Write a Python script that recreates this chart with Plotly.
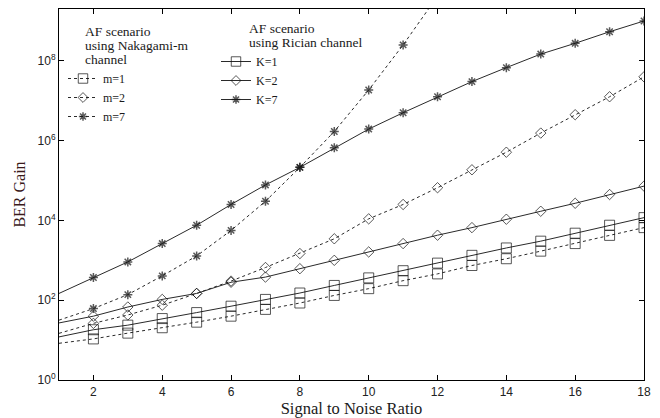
import plotly.graph_objects as go

snr = list(range(1, 19))

# log10 of BER gain
rician_k1 = [1.08, 1.26, 1.375, 1.54, 1.69, 1.85, 2.02, 2.18, 2.37, 2.56, 2.74, 2.93, 3.125, 3.31, 3.48, 3.68, 3.88, 4.07]
rician_k2 = [1.43, 1.60, 1.83, 2.02, 2.17, 2.45, 2.58, 2.79, 3.00, 3.21, 3.42, 3.63, 3.82, 4.03, 4.23, 4.43, 4.65, 4.86]
rician_k7 = [2.17, 2.57, 2.96, 3.42, 3.88, 4.40, 4.89, 5.33, 5.82, 6.29, 6.70, 7.10, 7.48, 7.83, 8.17, 8.44, 8.73, 9.00]
nak_m1 = [0.92, 1.03, 1.175, 1.31, 1.45, 1.60, 1.77, 1.93, 2.12, 2.29, 2.49, 2.66, 2.87, 3.04, 3.23, 3.42, 3.625, 3.82]
nak_m2 = [1.17, 1.42, 1.63, 1.875, 2.17, 2.48, 2.82, 3.17, 3.54, 4.04, 4.40, 4.82, 5.27, 5.71, 6.19, 6.65, 7.10, 7.60]
snr_m7 = list(range(1, 13))
nak_m7 = [1.50, 1.79, 2.14, 2.61, 3.11, 3.75, 4.48, 5.33, 6.23, 7.27, 8.40, 9.62]

ytick_exp = [0, 2, 4, 6, 8]
ytick_text = ["10<sup>%d</sup>" % e for e in ytick_exp]

LINE = "#2a2a2a"
SERIF = "Liberation Serif, Times New Roman, serif"
SANS = "Liberation Sans, Arial, sans-serif"

fig = go.Figure()

def add(xs, logs, name, symbol, msize, mlw, dash, legend):
    ys = [10 ** v for v in logs]
    sizes = [0 if x == 1 else msize for x in xs]
    fig.add_trace(go.Scatter(
        x=xs, y=ys, name=name, mode="lines+markers", legend=legend,
        line=dict(color=LINE, width=1, dash=dash),
        marker=dict(symbol=symbol, size=sizes, color="#111",
                    line=dict(color="#111", width=mlw)),
    ))

add(snr, nak_m1, "m=1", "square-open", 10, 1, "3px,3px", "legend")
add(snr, nak_m2, "m=2", "diamond-open", 8, 1, "3px,3px", "legend")
add(snr_m7, nak_m7, "m=7", "asterisk-open", 7.5, 1.5, "3px,3px", "legend")
add(snr, rician_k1, "K=1", "square-open", 10, 1, "solid", "legend2")
add(snr, rician_k2, "K=2", "diamond-open", 8, 1, "solid", "legend2")
add(snr, rician_k7, "K=7", "asterisk-open", 7.5, 1.5, "solid", "legend2")

# page body has an 8px margin, so the figure is shifted by 8px
OFF = 8
W, H = 652, 410
L, R, T, B = 51, 16, 1, 38
pw, ph = W - L - R, H - T - B
PLOT_LEFT = OFF + L
PLOT_BOTTOM = OFF + H - B

def px(xp):
    return (xp - PLOT_LEFT) / pw

def py(yp):
    return (PLOT_BOTTOM - yp) / ph

annots = []
for txt, xp, yp in [("AF scenario", 83, 31), ("using Nakagami-m", 83, 45), ("channel", 83, 59),
                    ("AF scenario", 247, 28), ("using Rician channel", 247, 42)]:
    annots.append(dict(text=txt, x=px(xp), y=py(yp), xref="paper", yref="paper",
                       xanchor="left", yanchor="middle", showarrow=False,
                       font=dict(family=SERIF, size=13.5, color="#1a1a1a")))

fig.update_layout(
    width=W, height=H,
    margin=dict(l=L, r=R, t=T, b=B),
    paper_bgcolor="white", plot_bgcolor="white",
    showlegend=True,
    legend=dict(x=px(63), y=py(64), xanchor="left", yanchor="top",
                bgcolor="rgba(0,0,0,0)", font=dict(family=SERIF, size=12, color="#1a1a1a"),
                tracegroupgap=0, itemwidth=30),
    legend2=dict(x=px(216), y=py(47), xanchor="left", yanchor="top",
                 bgcolor="rgba(0,0,0,0)", font=dict(family=SERIF, size=12, color="#1a1a1a"),
                 tracegroupgap=0, itemwidth=30),
    annotations=annots,
    xaxis=dict(range=[1, 18], dtick=2, tick0=0, showgrid=False, zeroline=False,
               ticks="inside", ticklen=5, tickcolor="#000", showline=True, linecolor="#000",
               linewidth=1, mirror="ticks", ticklabelstandoff=1,
               tickfont=dict(family=SANS, size=12, color="#222"),
               title=dict(text="Signal to Noise Ratio", standoff=3,
                          font=dict(family=SERIF, size=16.5, color="#1a1a1a"))),
    yaxis=dict(type="log", range=[0, 9.3], tickvals=[10 ** e for e in ytick_exp],
               ticktext=ytick_text, showgrid=False, zeroline=False,
               ticks="inside", ticklen=5, tickcolor="#000", showline=True, linecolor="#000",
               linewidth=1, mirror="ticks",
               tickfont=dict(family=SANS, size=12, color="#222"),
               title=dict(text="BER Gain", standoff=7,
                          font=dict(family=SERIF, size=16, color="#3a1a1a"))),
)

fig.write_html("out.html")
